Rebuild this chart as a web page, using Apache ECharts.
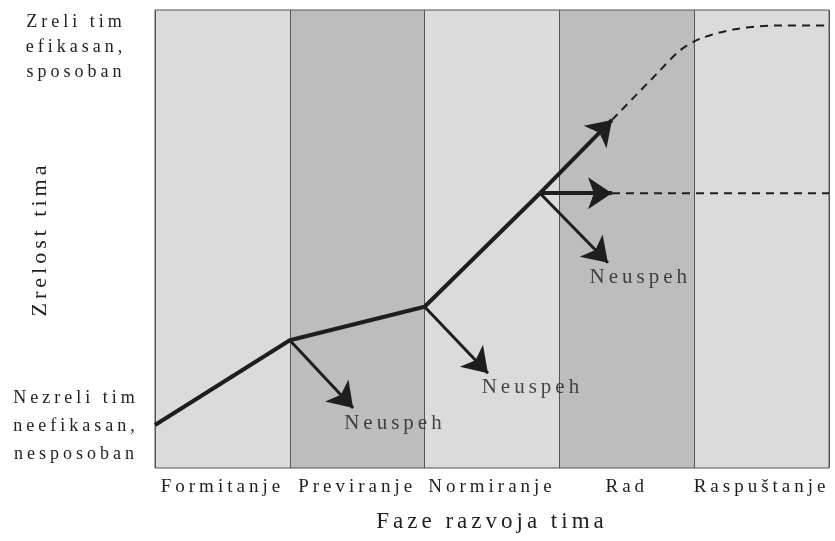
<!DOCTYPE html>
<html>
<head>
<meta charset="utf-8">
<script src="https://cdn.jsdelivr.net/npm/echarts@6/dist/echarts.min.js"></script>
<style>
  html, body { margin: 0; padding: 0; background: #fff; }
  #chart { width: 835px; height: 541px; }
</style>
</head>
<body>
<div id="chart"></div>
<script>
const phases = ["Formitanje", "Previranje", "Normiranje", "Rad", "Raspuštanje"];
const topLabel = "Zreli tim\nefikasan,\nsposoban";
const bottomLabel = "Nezreli tim\nneefikasan,\nnesposoban";

// maturity path through the phases (x = phase position 0..5, y = maturity 0..100)
const mainPath = [[0, 9.4], [1, 27.9], [2, 35.2], [2.856, 60]];
const growthArrows = [
  [[2.856, 60], [3.39, 76]],
  [[2.856, 60], [3.39, 60]]
];
const failArrows = [
  [[1, 27.9], [1.47, 13.1]],
  [[2, 35.2], [2.47, 20.7]],
  [[2.856, 60], [3.36, 44.8]]
];
const upperDashed = [[3.39, 76], [3.72, 86], [3.9, 91.3], [4.05, 93.8], [4.3, 95.8], [4.6, 96.6], [5, 96.6]];
const flatDashed = [[3.39, 60], [5, 60]];
const failLabels = ["Neuspeh", "Neuspeh", "Neuspeh"];
const failLabelPos = [[1.78, 9.8], [2.8, 17.6], [3.6, 41.5]];

const FONT = "Liberation Serif";
const INK = "#1e1e1e";

// the original uses a widely spaced serif
const fillText = CanvasRenderingContext2D.prototype.fillText;
CanvasRenderingContext2D.prototype.fillText = function () {
  this.letterSpacing = "4px";
  const r = fillText.apply(this, arguments);
  this.letterSpacing = "0px";
  return r;
};

const chart = echarts.init(document.getElementById("chart"));

const option = {
  animation: false,
  backgroundColor: "#fff",
  textStyle: { fontFamily: FONT },
  grid: {
    left: 155, right: 6, top: 10, bottom: 73,
    show: true, z: 3,
    borderColor: "#555", borderWidth: 1,
    backgroundColor: "transparent"
  },
  xAxis: [
    { type: "value", min: 0, max: 5, show: false },
    {
      type: "category",
      data: phases,
      position: "bottom",
      boundaryGap: true,
      axisLine: { show: false },
      axisTick: { show: false },
      axisLabel: { interval: 0, margin: 10, fontFamily: FONT, fontSize: 19, color: INK },
      splitArea: { show: true, interval: 0, areaStyle: { color: ["#dbdbdb", "#bdbdbd"] } },
      splitLine: { show: true, interval: 0, lineStyle: { color: "#555", width: 1 } },
      name: "Faze razvoja tima",
      nameLocation: "middle",
      nameGap: 42,
      nameTextStyle: { fontFamily: FONT, fontSize: 23, color: INK }
    }
  ],
  yAxis: {
    type: "value", min: 0, max: 100,
    axisLine: { show: false },
    axisTick: { show: false },
    axisLabel: { show: false },
    splitLine: { show: false },
    name: "Zrelost tima",
    nameLocation: "middle",
    nameRotate: 90,
    nameGap: 104,
    nameTextStyle: { fontFamily: FONT, fontSize: 22, color: INK }
  },
  graphic: [
    { type: "text", x: 76, y: 10, style: { text: topLabel, fill: INK, fontFamily: FONT, fontSize: 18, lineHeight: 25, align: "center" } },
    { type: "text", x: 76, y: 384, style: { text: bottomLabel, fill: INK, fontFamily: FONT, fontSize: 18, lineHeight: 28, align: "center" } }
  ],
  series: [
    {
      type: "line", data: mainPath, xAxisIndex: 0, symbol: "none", z: 5,
      lineStyle: { color: INK, width: 4 }
    },
    {
      type: "line", data: upperDashed, xAxisIndex: 0, symbol: "none", smooth: 0.3, z: 4,
      lineStyle: { color: INK, width: 2, type: [8, 6] }
    },
    {
      type: "line", data: flatDashed, xAxisIndex: 0, symbol: "none", z: 4,
      lineStyle: { color: INK, width: 2, type: [8, 6] }
    },
    {
      type: "lines", coordinateSystem: "cartesian2d", xAxisIndex: 0, z: 5,
      data: growthArrows.map(c => ({ coords: c })),
      symbol: ["none", "arrow"], symbolSize: [18, 24],
      lineStyle: { color: INK, width: 4, opacity: 1 }
    },
    {
      type: "lines", coordinateSystem: "cartesian2d", xAxisIndex: 0, z: 5,
      data: failArrows.map(c => ({ coords: c })),
      symbol: ["none", "arrow"], symbolSize: [17, 24],
      lineStyle: { color: INK, width: 3, opacity: 1 }
    },
    {
      type: "scatter", xAxisIndex: 0, symbolSize: 0, z: 6,
      data: failLabelPos.map((p, i) => ({ value: p, name: failLabels[i] })),
      label: {
        show: true, position: "inside", formatter: "{b}",
        fontFamily: FONT, fontSize: 21, color: INK
      }
    }
  ]
};

chart.setOption(option);
</script>
</body>
</html>
